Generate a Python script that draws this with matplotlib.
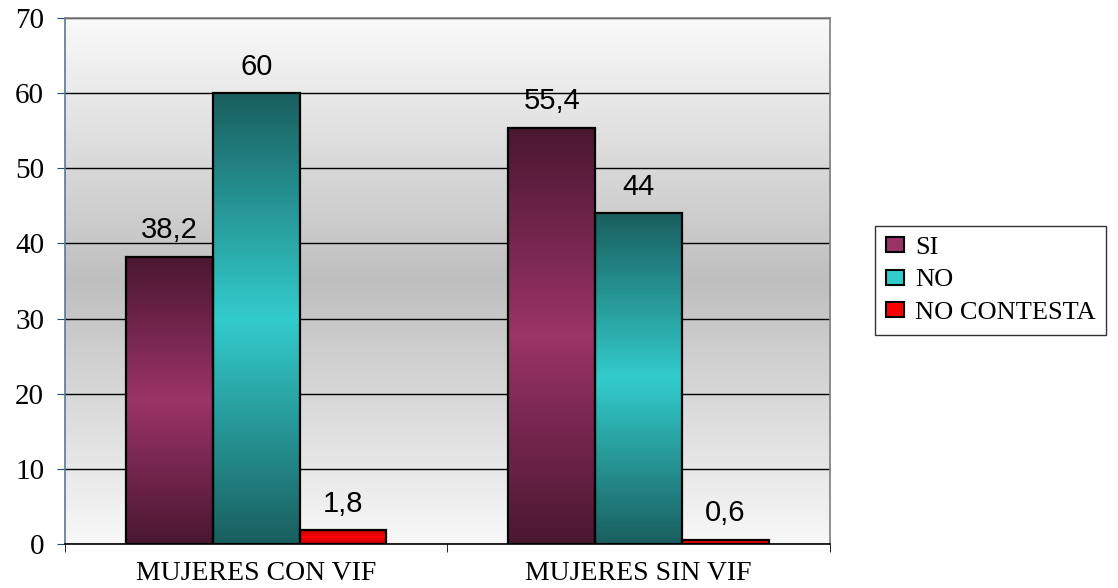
import numpy as np
import matplotlib
matplotlib.use('Agg')
import matplotlib.pyplot as plt
from matplotlib.colors import LinearSegmentedColormap
from matplotlib.patches import Patch

categories = ['MUJERES CON VIF', 'MUJERES SIN VIF']
series_names = ['SI', 'NO', 'NO CONTESTA']
si_values = [38.2, 55.4]
no_values = [60, 44]
nc_values = [1.8, 0.6]
y_ticks = [0, 10, 20, 30, 40, 50, 60, 70]

# dark -> light -> dark, like the old excel fill
gradients = [
    ('#4a1731', '#9b3467'),
    ('#1a5f5f', '#33cccc'),
    ('#c00000', '#ff0000'),
]
legend_colors = ['#993366', '#33cccc', '#ff0000']

serif = 'Liberation Serif'
sans = 'Liberation Sans'

fig = plt.figure(figsize=(11.18, 5.88), dpi=100)
ax = fig.add_axes([0.0581, 0.0748, 0.7424 - 0.0581, 0.9694 - 0.0748])

# plot area background
bg_cmap = LinearSegmentedColormap.from_list('bg', [(0, '#f8f8f8'), (0.5, '#bfbfbf'), (1, '#fafafa')])
bg = np.linspace(0, 1, 256).reshape(-1, 1)
ax.imshow(bg, extent=[0, 1, 0, 1], transform=ax.transAxes, aspect='auto', cmap=bg_cmap,
          origin='lower', zorder=0)

x = np.arange(len(categories))
width = 0.227
all_values = [si_values, no_values, nc_values]

for i, vals in enumerate(all_values):
    dark, light = gradients[i]
    cmap = LinearSegmentedColormap.from_list('b%d' % i, [dark, light, dark])
    bars = ax.bar(x + (i - 1) * width, vals, width, facecolor='none', edgecolor='black',
                  linewidth=1.6, zorder=4)
    for b, v in zip(bars, vals):
        grad = np.linspace(0, 1, 200).reshape(-1, 1)
        ax.imshow(grad, extent=[b.get_x(), b.get_x() + b.get_width(), 0, b.get_height()],
                  aspect='auto', cmap=cmap, origin='lower', zorder=3)
        lbl = ('%g' % v).replace('.', ',')
        ax.annotate(lbl, (b.get_x() + b.get_width() / 2, v), xytext=(0, 9),
                    textcoords='offset points', ha='center', va='bottom',
                    fontsize=21, family=sans, color='black')

ax.set_xlim(-0.5, 1.5)
ax.set_ylim(0, 70)
ax.set_yticks(y_ticks)
ax.set_yticklabels([str(t) for t in y_ticks], family=serif, fontsize=21)
ax.yaxis.grid(True, color='black', linewidth=1.0, zorder=1)
ax.set_axisbelow(True)

ax.set_xticks(x)
ax.set_xticklabels(categories, family=serif, fontsize=20)
ax.set_xticks([-0.5, 0.5, 1.5], minor=True)
ax.tick_params(axis='x', which='major', length=0, pad=12)
ax.tick_params(axis='x', which='minor', length=6, direction='out', color='black')
ax.tick_params(axis='y', length=6, direction='out', color='#1f4e79', pad=9)

for s in ['top', 'right']:
    ax.spines[s].set_color('#808080')
ax.spines['left'].set_color('#5a7896')
ax.spines['bottom'].set_color('black')
for s in ax.spines.values():
    s.set_linewidth(1.2)
    s.set_zorder(5)

handles = [Patch(facecolor=c, edgecolor='black', linewidth=1.5) for c in legend_colors]
leg = fig.legend(handles, series_names, loc='center left', bbox_to_anchor=(0.771, 0.523),
                 prop={'family': serif, 'size': 19}, frameon=True, fancybox=False,
                 handlelength=0.7, handleheight=0.5, handletextpad=0.4, labelspacing=0.4,
                 borderpad=0.4)
leg.get_frame().set_edgecolor('black')
leg.get_frame().set_linewidth(1.0)

fig.savefig('out.png', dpi=100)
